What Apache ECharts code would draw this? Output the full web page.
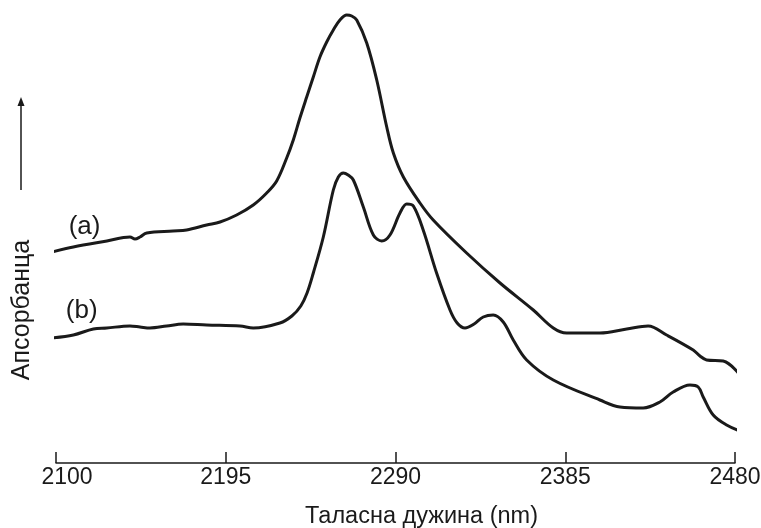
<!DOCTYPE html>
<html>
<head>
<meta charset="utf-8">
<script src="https://cdn.jsdelivr.net/npm/echarts@6/dist/echarts.min.js"></script>
<style>
  html, body { margin: 0; padding: 0; background: #fff; }
  #chart { width: 761px; height: 528px; }
</style>
</head>
<body>
<div id="chart"></div>
<script>
// wavelength ticks (nm)
const tickValues = [2100, 2195, 2290, 2385, 2480]

// spectrum (a): [wavelength nm, absorbance a.u.]
const wavelengthA = [2097.6, 2109.7, 2128.5, 2141.4, 2144.2, 2147.0, 2150.8, 2165.5, 2173.1, 2184.3,
  2191.8, 2201.1, 2210.4, 2217.9, 2223.5, 2229.1, 2232.8, 2236.5, 2240.3, 2244.0,
  2247.7, 2251.5, 2255.2, 2258.9, 2262.7, 2265.5, 2268.3, 2273.9, 2279.5, 2285.1,
  2288.8, 2294.4, 2303.7, 2311.1, 2329.8, 2348.5, 2367.1, 2378.3, 2385.8, 2404.4,
  2419.4, 2431.4, 2441.7, 2456.6, 2460.4, 2464.1, 2473.4, 2482.8]
const absorbA = [2.11, 2.16, 2.22, 2.26, 2.24, 2.26, 2.30, 2.32, 2.33, 2.38,
  2.41, 2.48, 2.58, 2.70, 2.82, 3.05, 3.23, 3.45, 3.66, 3.86,
  4.06, 4.21, 4.33, 4.43, 4.48, 4.47, 4.43, 4.20, 3.83, 3.36,
  3.10, 2.86, 2.60, 2.43, 2.10, 1.80, 1.53, 1.35, 1.30, 1.30,
  1.34, 1.37, 1.28, 1.13, 1.07, 1.03, 1.02, 0.88]

// spectrum (b)
const wavelengthB = [2097.6, 2109.7, 2120.9, 2128.4, 2141.4, 2147.0, 2152.6, 2161.9, 2171.2, 2184.3,
  2203.0, 2210.4, 2225.3, 2232.0, 2237.0, 2240.5, 2244.0, 2249.6, 2255.2, 2258.0,
  2260.8, 2263.5, 2266.4, 2272.0, 2277.6, 2282.3, 2286.9, 2292.5, 2296.3, 2300.0,
  2305.5, 2313.0, 2320.5, 2324.5, 2328.9, 2334.0, 2339.1, 2344.7, 2350.3, 2355.9,
  2363.4, 2378.3, 2404.4, 2415.6, 2428.6, 2438.0, 2445.4, 2454.8, 2459.4, 2462.2,
  2467.8, 2475.3, 2482.8]
const absorbB = [1.25, 1.28, 1.34, 1.35, 1.37, 1.36, 1.35, 1.37, 1.39, 1.38,
  1.37, 1.35, 1.40, 1.47, 1.57, 1.70, 1.90, 2.26, 2.73, 2.86,
  2.90, 2.88, 2.83, 2.56, 2.28, 2.22, 2.28, 2.50, 2.59, 2.57,
  2.33, 1.90, 1.53, 1.40, 1.35, 1.39, 1.46, 1.48, 1.41, 1.23,
  1.03, 0.83, 0.63, 0.56, 0.55, 0.61, 0.71, 0.78, 0.76, 0.66,
  0.48, 0.38, 0.32]

const FONT = '"Liberation Sans", Arial, sans-serif'
const INK = '#1a1a1a'

const pairs = (xs, ys) => xs.map((x, i) => [x, ys[i]])

const curve = (name, xs, ys, labelAt) => ({
  name,
  type: 'line',
  data: pairs(xs, ys),
  smooth: 0.35,
  clip: false,
  symbol: 'none',
  lineStyle: { color: INK, width: 3 },
  markPoint: {
    symbol: 'circle',
    symbolSize: 0,
    label: {
      show: true,
      position: 'inside',
      formatter: name,
      color: INK,
      fontFamily: FONT,
      fontSize: 26
    },
    data: [{ coord: labelAt }]
  }
})

const chartInstance = echarts.init(document.getElementById('chart'))

chartInstance.setOption({
  animation: false,
  backgroundColor: '#fff',
  grid: { left: 56, right: 26, top: 13, bottom: 65, outerBoundsMode: 'none' },
  xAxis: {
    type: 'value',
    min: 2100,
    max: 2480,
    name: 'Таласна дужина (nm)',
    nameLocation: 'middle',
    nameGap: 42,
    nameTextStyle: { color: INK, fontFamily: FONT, fontSize: 23.5, padding: [0, 0, 0, 52] },
    axisLine: { show: true, lineStyle: { color: INK, width: 1.5 } },
    axisTick: {
      show: true,
      inside: true,
      length: 11,
      customValues: tickValues,
      lineStyle: { color: INK, width: 1.5 }
    },
    axisLabel: {
      customValues: tickValues,
      // first label sits a little to the right of its tick, as in the original
      formatter: v => v === tickValues[0] ? '{first|' + v + '}' : String(v),
      rich: { first: { padding: [0, 0, 0, 22], fontFamily: FONT, fontSize: 23, color: INK } },
      margin: 3,
      color: INK,
      fontFamily: FONT,
      fontSize: 23
    },
    splitLine: { show: false }
  },
  yAxis: {
    type: 'value',
    min: 0,
    max: 4.5,
    show: false
  },
  series: [
    curve('(a)', wavelengthA, absorbA, [2116, 2.36]),
    curve('(b)', wavelengthB, absorbB, [2114.4, 1.52])
  ],
  graphic: [
    {
      type: 'text',
      x: 22,
      y: 310,
      rotation: Math.PI / 2,
      style: {
        text: 'Апсорбанца',
        fill: INK,
        font: '25px ' + FONT,
        align: 'center',
        verticalAlign: 'middle'
      }
    },
    {
      type: 'line',
      shape: { x1: 21, y1: 190, x2: 21, y2: 104 },
      style: { stroke: INK, lineWidth: 1.5 }
    },
    {
      type: 'polygon',
      shape: { points: [[21, 97], [17.5, 106], [24.5, 106]] },
      style: { fill: INK }
    }
  ]
})

window.addEventListener('resize', () => {
  chartInstance?.resize()
})
</script>
</body>
</html>
